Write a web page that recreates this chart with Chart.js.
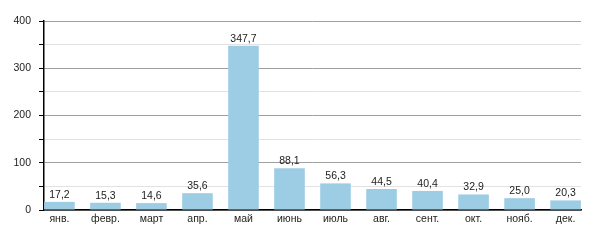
<!DOCTYPE html>
<html>
<head>
<meta charset="utf-8">
<script src="https://cdn.jsdelivr.net/npm/chart.js@4"></script>
<style>
    html, body { margin: 0; padding: 0; background: #fff; }
    #wrap { width: 600px; height: 250px; }
</style>
</head>
<body>
<div id="wrap"><canvas id="chart"></canvas></div>
<script>
// Chart data
const months = ['янв.', 'февр.', 'март', 'апр.', 'май', 'июнь', 'июль', 'авг.', 'сент.', 'окт.', 'нояб.', 'дек.'];
const values = [17.2, 15.3, 14.6, 35.6, 347.7, 88.1, 56.3, 44.5, 40.4, 32.9, 25.0, 20.3];
const yTicks = [0, 100, 200, 300, 400];

const font = { family: '"Liberation Sans", Arial, sans-serif', size: 10.5 };

// Value labels above the bars
const valueLabels = {
    id: 'valueLabels',
    afterDatasetsDraw(chart) {
        const ctx = chart.ctx;
        const meta = chart.getDatasetMeta(0);
        ctx.save();
        ctx.font = `${font.size}px ${font.family}`;
        ctx.fillStyle = '#222';
        ctx.textAlign = 'center';
        ctx.textBaseline = 'alphabetic';
        meta.data.forEach((bar, i) => {
            const text = values[i].toFixed(1).replace('.', ',');
            ctx.fillText(text, bar.x, bar.y - 4);
        });
        ctx.restore();
    }
};

const ctx = document.getElementById('chart').getContext('2d');
new Chart(ctx, {
    type: 'bar',
    data: {
        datasets: [{
            data: values.map((v, i) => ({ x: i, y: v })),
            backgroundColor: '#9dcce5',
            borderWidth: 0,
            categoryPercentage: 1,
            barPercentage: 0.665
        }]
    },
    options: {
        responsive: true,
        maintainAspectRatio: false,
        animation: false,
        layout: { padding: { top: 21, right: 19, bottom: 15, left: 0 } },
        plugins: {
            legend: { display: false },
            tooltip: { enabled: false }
        },
        scales: {
            x: {
                type: 'linear',
                offset: false,
                min: -0.335,
                max: months.length - 1 + 0.335,
                grid: { display: false, offset: false, drawTicks: false, tickLength: 0 },
                border: { color: '#000', width: 1.5 },
                afterFit(scale) { scale.height = 25; },
                afterBuildTicks(scale) { scale.ticks = months.map((m, i) => ({ value: i })); },
                ticks: {
                    autoSkip: false,
                    maxRotation: 0,
                    padding: 3,
                    color: '#222',
                    font: font,
                    callback: (v) => months[v]
                }
            },
            y: {
                min: yTicks[0],
                max: yTicks[yTicks.length - 1],
                border: { color: '#000', width: 1.5 },
                grid: {
                    color: (c) => c.tick.value % 100 === 0 ? '#a0a0a0' : '#e2e2e2',
                    tickColor: '#000',
                    tickLength: 5
                },
                afterFit(scale) { scale.width = 44; },
                ticks: {
                    stepSize: 50,
                    padding: 8,
                    color: '#222',
                    font: font,
                    callback: (v) => yTicks.includes(v) ? v : ''
                }
            }
        }
    },
    plugins: [valueLabels]
});
</script>
</body>
</html>
